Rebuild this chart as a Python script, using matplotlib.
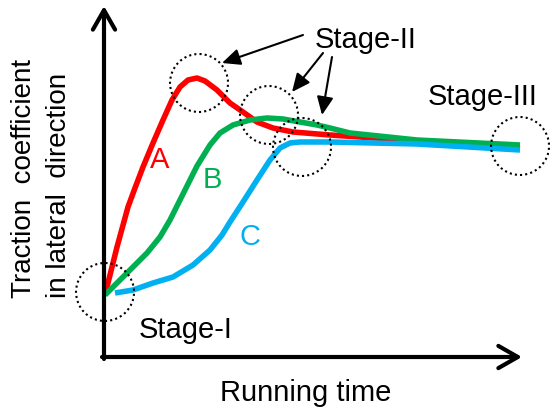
# ----- Import packages -----
import matplotlib
matplotlib.use("Agg")
import matplotlib.pyplot as plt
from matplotlib.patches import Circle

plt.rcParams['font.family'] = ['Liberation Sans', 'DejaVu Sans']

# ----- Schematic data (arbitrary units) -----
time_a = [1, 13, 24, 31, 39, 49, 59, 68, 76, 84, 93, 101, 109, 113, 118,
          126, 139, 153, 169, 189, 226, 316, 416]
coef_a = [62, 110, 150, 169, 190, 214, 237, 257, 270, 277, 279, 276, 270,
          267, 262, 254, 245, 235, 229, 225, 222, 216, 209]

time_b = [1, 16, 29, 43, 56, 66, 76, 86, 93, 106, 116, 129, 146, 163, 179,
          196, 213, 226, 246, 313, 416]
coef_b = [62, 77, 90, 104, 120, 137, 157, 177, 191, 212, 224, 232, 237, 239,
          238, 235, 232, 229, 224, 217, 212]

time_c = [11, 29, 49, 69, 89, 106, 118, 126, 139, 153, 166, 176, 186, 196,
          226, 313, 416]
coef_c = [64, 67, 74, 80, 92, 107, 122, 135, 155, 177, 197, 209, 214, 215,
          215, 213, 207]

curve_labels = ["A", "B", "C"]
curve_colors = ["#ff0000", "#00b050", "#00b0f0"]
label_pos = [(56, 197), (108, 177), (146, 120)]

# dotted circles marking the stages
circle_x = [1, 95, 165, 198, 416]
circle_y = [65, 274, 242, 210, 211]

# ----- Figure -----
fig = plt.figure(figsize=(5.5, 4.19), dpi=100)
ax = fig.add_axes([104 / 550, 62 / 419, 416 / 550, 349 / 419])
ax.set_xlim(0, 416)
ax.set_ylim(0, 349)
ax.axis('off')

# axes with arrows
arrow_axis = dict(arrowstyle='->,head_length=0.7,head_width=0.4', lw=3,
                  color='black', mutation_scale=20, shrinkA=0, shrinkB=0)
ax.annotate('', xy=(0, 351), xytext=(0, -2), arrowprops=arrow_axis,
            annotation_clip=False)
ax.annotate('', xy=(418, 0), xytext=(-2, 0), arrowprops=arrow_axis,
            annotation_clip=False)

# curves
for t, c, col in zip([time_a, time_b, time_c], [coef_a, coef_b, coef_c],
                     curve_colors):
    ax.plot(t, c, color=col, lw=4, solid_capstyle='butt',
            solid_joinstyle='round', clip_on=False)

for lab, col, (lx, ly) in zip(curve_labels, curve_colors, label_pos):
    ax.text(lx, ly, lab, color=col, fontsize=21, ha='center', va='center')

for cx, cy in zip(circle_x, circle_y):
    ax.add_patch(Circle((cx, cy), 29, fill=False, ls=(0, (1, 1.5)),
                        lw=1.5, color='black', clip_on=False, zorder=3))

# Stage-II pointers
arrow_stage = dict(arrowstyle='-|>,head_length=0.55,head_width=0.25', lw=1.5,
                   color='black', mutation_scale=20, shrinkA=0, shrinkB=0)
for (x0, y0), (x1, y1) in [((199, 322), (118, 294)),
                           ((219, 304), (188, 265)),
                           ((228, 300), (218, 242))]:
    ax.annotate('', xy=(x1, y1), xytext=(x0, y0), arrowprops=arrow_stage,
                annotation_clip=False)

ax.text(262, 317, "Stage-II", fontsize=21, ha='center', va='center')
ax.text(379, 260, "Stage-III", fontsize=21, ha='center', va='center')
ax.text(82, 27, "Stage-I", fontsize=21, ha='center', va='center')

ax.text(202, -36, "Running time", fontsize=21, ha='center', va='center')
ax.text(-80, 59, "Traction  coefficient", fontsize=20, rotation=90,
        ha='center', va='bottom')
ax.text(-45, 59, "in lateral  direction", fontsize=20, rotation=90,
        ha='center', va='bottom')

fig.savefig("out.png", dpi=100)
